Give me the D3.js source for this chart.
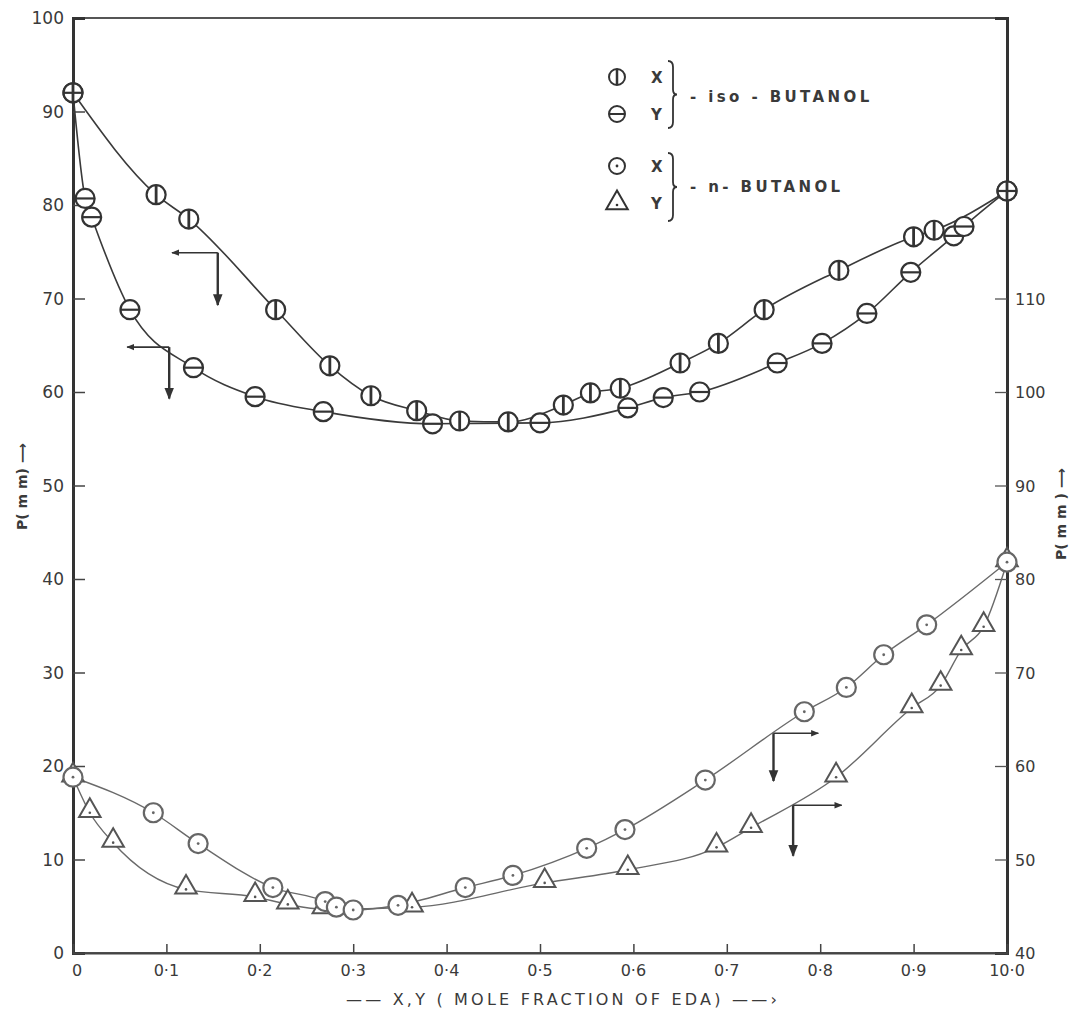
<!DOCTYPE html>
<html>
<head>
<meta charset="utf-8">
<script src="https://cdn.jsdelivr.net/npm/d3@7"></script>
<style>
  body { margin: 0; background: #fff; }
  text { font-family: "DejaVu Sans", sans-serif; fill: #3a3a3a; }
</style>
</head>
<body>
<script>
const width = 1074;
const height = 1015;

// iso-butanol system, P on left axis (mm)
const isoX = [[0, 92], [0.089, 81.1], [0.124, 78.5], [0.217, 68.8], [0.275, 62.8], [0.319, 59.6],
  [0.368, 58.0], [0.414, 56.9], [0.466, 56.8], [0.525, 58.6], [0.554, 59.9], [0.586, 60.4],
  [0.650, 63.1], [0.691, 65.2], [0.740, 68.8], [0.820, 73.0], [0.900, 76.6], [0.922, 77.3], [1.0, 81.5]];
const isoY = [[0, 92], [0.013, 80.7], [0.020, 78.7], [0.061, 68.8], [0.129, 62.6], [0.195, 59.5],
  [0.268, 57.9], [0.385, 56.6], [0.500, 56.7], [0.594, 58.3], [0.632, 59.4], [0.671, 60.0],
  [0.754, 63.1], [0.802, 65.2], [0.850, 68.4], [0.897, 72.8], [0.943, 76.7], [0.954, 77.7], [1.0, 81.5]];

// n-butanol system, P on right axis (mm)
const nX = [[0, 58.8], [0.086, 55.0], [0.134, 51.7], [0.214, 47.0], [0.270, 45.5], [0.282, 44.9],
  [0.300, 44.6], [0.348, 45.1], [0.420, 47.0], [0.471, 48.3], [0.550, 51.2], [0.591, 53.2],
  [0.677, 58.5], [0.783, 65.8], [0.828, 68.4], [0.868, 71.9], [0.914, 75.1], [1.0, 81.8]];
const nY = [[0, 58.8], [0.018, 55.0], [0.043, 51.8], [0.121, 46.8], [0.195, 46.0], [0.230, 45.2],
  [0.268, 44.7], [0.363, 44.9], [0.505, 47.5], [0.594, 48.9], [0.689, 51.3], [0.726, 53.4],
  [0.817, 58.8], [0.898, 66.2], [0.929, 68.6], [0.951, 72.4], [0.975, 74.9], [1.0, 81.8]];

const leftTicks = [0, 10, 20, 30, 40, 50, 60, 70, 80, 90, 100];
const rightTicks = [40, 50, 60, 70, 80, 90, 100, 110];
const xTicks = [0, 0.1, 0.2, 0.3, 0.4, 0.5, 0.6, 0.7, 0.8, 0.9, 1.0];
const xTickLabels = ["0", "0·1", "0·2", "0·3", "0·4", "0·5", "0·6", "0·7", "0·8", "0·9", "10·0"];

// axis pointer arrows: [x, p, x-end, p-end]
const isoArrows = [[0.155, 74.9, 0.106, 69.3], [0.103, 64.8, 0.058, 59.3]];
const nArrows = [[0.750, 63.5, 0.798, 58.4], [0.771, 55.8, 0.823, 50.4]];

const x = d3.scaleLinear().domain([0, 1]).range([73, 1007]);
const yL = d3.scaleLinear().domain([0, 100]).range([953, 18]);
const yR = d3.scaleLinear().domain([40, 140]).range([953, 18]);

const svg = d3.select("body").append("svg")
  .attr("width", width)
  .attr("height", height)
  .style("background", "#fff");

const defs = svg.append("defs");
defs.append("marker")
  .attr("id", "head")
  .attr("viewBox", "0 0 10 10")
  .attr("refX", 9).attr("refY", 5)
  .attr("markerWidth", 5).attr("markerHeight", 5)
  .attr("orient", "auto")
  .append("path").attr("d", "M0,1 L10,5 L0,9 Z").attr("fill", "#333");

// frame
svg.append("rect")
  .attr("x", 73).attr("y", 18)
  .attr("width", 934).attr("height", 935)
  .attr("fill", "none").attr("stroke", "#444").attr("stroke-width", 1.8);

// left axis
const gl = svg.append("g").attr("transform", "translate(73,0)")
  .call(d3.axisRight(yL).tickValues(leftTicks).tickSize(12).tickFormat(""));
gl.select(".domain").attr("stroke", "#333").attr("stroke-width", 3);
gl.selectAll(".tick line").attr("stroke", "#444").attr("stroke-width", 1.5)
  .filter(d => d === 0 || d === 100).remove();
svg.selectAll(".ltl").data(leftTicks).enter().append("text")
  .attr("x", 64).attr("y", d => yL(d) + 6)
  .attr("text-anchor", "end").attr("font-size", 17)
  .text(d => d);

// right axis
const gr = svg.append("g").attr("transform", "translate(1007,0)")
  .call(d3.axisLeft(yR).tickValues(rightTicks).tickSize(12).tickFormat(""));
gr.select(".domain").attr("stroke", "#333").attr("stroke-width", 3);
gr.selectAll(".tick line").attr("stroke", "#555").attr("stroke-width", 1.3)
  .filter(d => d === 40).remove();
svg.selectAll(".rtl").data(rightTicks).enter().append("text")
  .attr("x", 1015).attr("y", d => yR(d) + 6)
  .attr("font-size", 16)
  .text(d => d);

// bottom axis
const gb = svg.append("g").attr("transform", "translate(0,953)")
  .call(d3.axisTop(x).tickValues(xTicks).tickSize(9).tickFormat(""));
gb.select(".domain").attr("stroke", "#444").attr("stroke-width", 2);
gb.selectAll(".tick line").attr("stroke", "#444").attr("stroke-width", 1.5)
  .filter(d => d === 0 || d === 1).remove();
svg.selectAll(".xtl").data(xTicks).enter().append("text")
  .attr("x", (d, i) => x(d) + (i === 0 ? 4 : 0)).attr("y", 976)
  .attr("text-anchor", "middle").attr("font-size", 16)
  .text((d, i) => xTickLabels[i]);

// axis titles
svg.append("text")
  .attr("transform", "translate(27,530) rotate(-90)")
  .attr("font-size", 14).attr("font-weight", "bold")
  .text("P( m m) ⟶");
svg.append("text")
  .attr("transform", "translate(1066,560) rotate(-90)")
  .attr("font-size", 14).attr("font-weight", "bold")
  .text("P( m m ) ⟶");
svg.append("text")
  .attr("x", 563).attr("y", 1005)
  .attr("text-anchor", "middle").attr("font-size", 16)
  .attr("letter-spacing", 3.2)
  .text("—— X,Y ( MOLE  FRACTION  OF  EDA) ——›");

// curves
const lineL = d3.line().x(d => x(d[0])).y(d => yL(d[1])).curve(d3.curveMonotoneX);
const lineR = d3.line().x(d => x(d[0])).y(d => yR(d[1])).curve(d3.curveMonotoneX);
[isoX, isoY].forEach(s => {
  svg.append("path").attr("d", lineL(s))
    .attr("fill", "none").attr("stroke", "#3a3a3a").attr("stroke-width", 1.6);
});
[nX, nY].forEach(s => {
  svg.append("path").attr("d", lineR(s))
    .attr("fill", "none").attr("stroke", "#6a6a6a").attr("stroke-width", 1.4);
});

// markers
const r = 9.5;
function circleMarks(data, yScale, kind, color) {
  const g = svg.append("g").selectAll("g").data(data).enter().append("g")
    .attr("transform", d => `translate(${x(d[0])},${yScale(d[1])})`);
  g.append("circle").attr("r", r).attr("fill", "#fff")
    .attr("stroke", color).attr("stroke-width", 2.2);
  if (kind === "v") {
    g.append("line").attr("y1", -r).attr("y2", r).attr("stroke", color).attr("stroke-width", 2.8);
  } else if (kind === "h") {
    g.append("line").attr("x1", -r).attr("x2", r).attr("stroke", color).attr("stroke-width", 2.2);
  } else {
    g.append("circle").attr("r", 1.4).attr("fill", color);
  }
}
circleMarks(isoY, yL, "h", "#333");
circleMarks(isoX, yL, "v", "#333");
// end points shared by both phases: draw as crossed circles
svg.selectAll(".iso-end").data([isoX[0], isoX[isoX.length - 1]]).enter().append("line")
  .attr("x1", d => x(d[0]) - r).attr("x2", d => x(d[0]) + r)
  .attr("y1", d => yL(d[1])).attr("y2", d => yL(d[1]))
  .attr("stroke", "#333").attr("stroke-width", 2.2);

const tri = d3.symbol().type(d3.symbolTriangle).size(200);
const gt = svg.append("g").selectAll("g").data(nY).enter().append("g")
  .attr("transform", d => `translate(${x(d[0])},${yR(d[1]) - 2})`);
gt.append("path").attr("d", tri).attr("fill", "#fff")
  .attr("stroke", "#555").attr("stroke-width", 2);
gt.append("circle").attr("cy", 2).attr("r", 1.3).attr("fill", "#555");
circleMarks(nX, yR, "d", "#666");

// pointer arrows
function arrows(list, yScale) {
  list.forEach(a => {
    const px = x(a[0]), py = yScale(a[1]);
    svg.append("line").attr("x1", px).attr("y1", py)
      .attr("x2", x(a[2])).attr("y2", py)
      .attr("stroke", "#333").attr("stroke-width", 1.6).attr("marker-end", "url(#head)");
    svg.append("line").attr("x1", px).attr("y1", py)
      .attr("x2", px).attr("y2", yScale(a[3]))
      .attr("stroke", "#333").attr("stroke-width", 2.4).attr("marker-end", "url(#head)");
  });
}
arrows(isoArrows, yL);
arrows(nArrows, yR);

// legend
const leg = svg.append("g");
const legRows = [
  { y: 77, kind: "v", label: "X" },
  { y: 114, kind: "h", label: "Y" },
  { y: 166, kind: "d", label: "X" },
  { y: 203, kind: "t", label: "Y" }
];
legRows.forEach(row => {
  const g = leg.append("g").attr("transform", `translate(617,${row.y})`);
  if (row.kind === "t") {
    g.append("path").attr("d", tri).attr("fill", "#fff").attr("stroke", "#333").attr("stroke-width", 2);
    g.append("circle").attr("cy", 2).attr("r", 1.3).attr("fill", "#333");
  } else {
    g.append("circle").attr("r", 8).attr("fill", "#fff").attr("stroke", "#333").attr("stroke-width", 2);
    if (row.kind === "v") g.append("line").attr("y1", -8).attr("y2", 8).attr("stroke", "#333").attr("stroke-width", 2.5);
    if (row.kind === "h") g.append("line").attr("x1", -8).attr("x2", 8).attr("stroke", "#333").attr("stroke-width", 2);
    if (row.kind === "d") g.append("circle").attr("r", 1.4).attr("fill", "#333");
  }
  leg.append("text").attr("x", 651).attr("y", row.y + 6)
    .attr("font-size", 15).attr("font-weight", "bold").text(row.label);
});
// braces
function brace(y0, y1) {
  const xm = 673, ym = (y0 + y1) / 2;
  leg.append("path")
    .attr("d", `M${xm - 5},${y0} Q${xm},${y0} ${xm},${y0 + 6} L${xm},${ym - 5} Q${xm},${ym} ${xm + 4},${ym}` +
      ` Q${xm},${ym} ${xm},${ym + 5} L${xm},${y1 - 6} Q${xm},${y1} ${xm - 5},${y1}`)
    .attr("fill", "none").attr("stroke", "#333").attr("stroke-width", 1.8);
}
brace(61, 128);
brace(153, 221);
leg.append("text").attr("x", 690).attr("y", 102)
  .attr("font-size", 15).attr("font-weight", "bold").attr("letter-spacing", 3.4)
  .text("- iso - BUTANOL");
leg.append("text").attr("x", 690).attr("y", 192)
  .attr("font-size", 15).attr("font-weight", "bold").attr("letter-spacing", 3.4)
  .text("- n- BUTANOL");
</script>
</body>
</html>
